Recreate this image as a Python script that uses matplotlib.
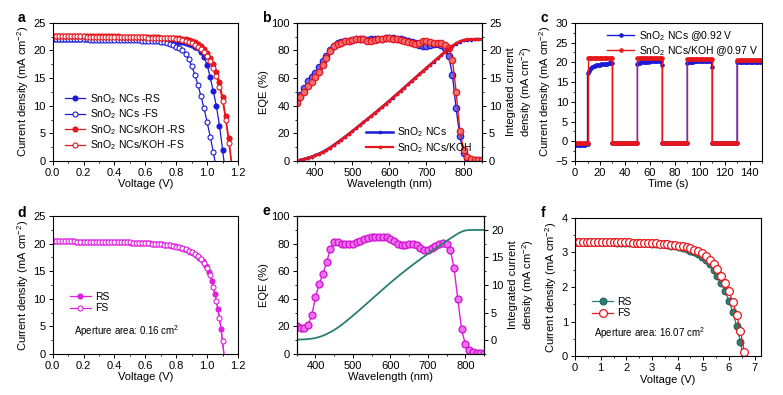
import numpy as np
import matplotlib
matplotlib.use('Agg')
import matplotlib.pyplot as plt
from matplotlib.ticker import MultipleLocator, FormatStrFormatter

plt.rcParams['font.family'] = ['Liberation Sans', 'DejaVu Sans']
plt.rcParams['font.size'] = 8
plt.rcParams['mathtext.fontset'] = 'custom'
plt.rcParams['mathtext.rm'] = 'Liberation Sans'
plt.rcParams['mathtext.it'] = 'Liberation Sans:italic'
plt.rcParams['mathtext.bf'] = 'Liberation Sans:bold'
plt.rcParams['mathtext.default'] = 'regular'
plt.rcParams['axes.linewidth'] = 0.8

BLUE = '#1a1ad8'
RED = '#e6161c'
MAG = '#e01ee0'
TEAL = '#2a7f72'

# ---------------- a: J-V (0.02 V steps)
a_blue_rs = [22.10, 22.10, 22.10, 22.10, 22.10, 22.10, 22.09, 22.09, 22.09, 22.08,
             22.08, 22.08, 22.07, 22.07, 22.06, 22.06, 22.05, 22.05, 22.05, 22.04,
             22.04, 22.03, 22.03, 22.02, 22.02, 22.01, 22.00, 21.99, 21.98, 21.97,
             21.96, 21.95, 21.93, 21.91, 21.89, 21.86, 21.83, 21.79, 21.75, 21.69,
             21.62, 21.53, 21.43, 21.30, 21.12, 20.92, 20.68, 20.35, 19.80, 18.80,
             17.40, 15.10, 12.60, 9.90, 6.40, 2.00, -2.50]
a_blue_fs = [22.00, 22.00, 22.00, 22.00, 22.00, 22.00, 21.99, 21.99, 21.99, 21.98,
             21.98, 21.98, 21.97, 21.97, 21.96, 21.96, 21.95, 21.95, 21.94, 21.93,
             21.93, 21.92, 21.91, 21.90, 21.89, 21.88, 21.86, 21.84, 21.81, 21.78,
             21.75, 21.72, 21.70, 21.66, 21.61, 21.55, 21.45, 21.32, 21.15, 20.95,
             20.70, 20.40, 20.00, 19.30, 18.40, 17.20, 15.60, 13.80, 11.70, 9.50,
             7.00, 4.40, 1.60, -1.50]
a_red_rs = [22.62, 22.62, 22.62, 22.61, 22.61, 22.61, 22.60, 22.60, 22.60, 22.59,
            22.59, 22.58, 22.58, 22.57, 22.57, 22.56, 22.56, 22.55, 22.54, 22.54,
            22.53, 22.52, 22.51, 22.50, 22.49, 22.48, 22.47, 22.46, 22.45, 22.43,
            22.42, 22.40, 22.39, 22.37, 22.35, 22.33, 22.31, 22.29, 22.27, 22.26,
            22.25, 22.18, 22.10, 22.00, 21.85, 21.67, 21.43, 21.12, 20.72, 20.20,
            19.55, 18.70, 17.60, 16.15, 14.20, 11.60, 8.20, 4.10, -0.50]
a_red_fs = [22.55, 22.55, 22.55, 22.54, 22.54, 22.54, 22.53, 22.53, 22.53, 22.52,
            22.52, 22.51, 22.51, 22.50, 22.50, 22.49, 22.49, 22.48, 22.47, 22.47,
            22.46, 22.45, 22.44, 22.43, 22.42, 22.41, 22.40, 22.39, 22.38, 22.36,
            22.35, 22.33, 22.32, 22.30, 22.28, 22.26, 22.24, 22.22, 22.20, 22.18,
            22.15, 22.05, 21.92, 21.77, 21.58, 21.35, 21.05, 20.68, 20.22, 19.65,
            18.95, 18.05, 16.90, 15.40, 13.40, 10.80, 7.40, 3.30, -1.00]

# ---------------- b: EQE and integrated current (10 nm steps)
wl = np.arange(350, 851, 10)
b_eqe_blue = [44, 48, 52.5, 58, 61, 64, 68, 72, 76, 80.5,
              83.5, 85, 86, 86.5, 87, 87.5, 88, 88, 88, 87.5,
              88, 88.5, 88.5, 88.5, 89, 89, 89, 88.5, 88, 87.5,
              87, 86, 85, 84, 83, 83.5, 84, 84.5, 84.5, 84,
              82, 76, 62, 38, 18, 6, 2, 1, 0.8, 0.8, 0.8]
b_eqe_red = [42, 46, 50, 54, 57, 60.5, 64.5, 69.5, 74.5, 79.5,
             83, 84.5, 85.5, 86.5, 87, 87.5, 88, 88, 88, 87,
             87, 87.5, 88, 88.5, 89, 89, 88.5, 88, 87.5, 87,
             86, 85, 84.5, 85.5, 86.5, 86.5, 86, 85.5, 85.5, 85,
             84, 82, 73, 50, 22, 8, 3, 1.5, 1, 1, 1]
b_int_blue = [0.05, 0.20, 0.38, 0.58, 0.80, 1.05, 1.33, 1.65, 2.02, 2.44,
              2.90, 3.38, 3.87, 4.37, 4.88, 5.40, 5.93, 6.47, 7.01, 7.55,
              8.10, 8.65, 9.20, 9.76, 10.33, 10.90, 11.48, 12.07, 12.67, 13.27,
              13.87, 14.47, 15.07, 15.66, 16.24, 16.82, 17.40, 17.98, 18.56, 19.13,
              19.70, 20.25, 20.75, 21.20, 21.55, 21.80, 21.92, 21.97, 21.99, 22.00, 22.00]
b_int_red = [0.05, 0.19, 0.37, 0.56, 0.77, 1.01, 1.28, 1.60, 1.97, 2.40,
             2.86, 3.35, 3.85, 4.36, 4.88, 5.41, 5.95, 6.49, 7.03, 7.57,
             8.12, 8.67, 9.22, 9.78, 10.35, 10.92, 11.50, 12.09, 12.69, 13.29,
             13.89, 14.49, 15.09, 15.68, 16.27, 16.86, 17.45, 18.03, 18.61, 19.19,
             19.76, 20.32, 20.84, 21.30, 21.65, 21.88, 21.98, 22.03, 22.05, 22.06, 22.06]

# ---------------- c: steady-state output (1 s steps)
c_blue = ([-1.00, -1.00, -0.98, -0.95, -0.93, -0.90, -0.88, -0.85, -0.83, -0.80, -0.80],
          [17.3, 17.9, 18.3, 18.6, 18.8, 18.95, 19.1, 19.2, 19.3, 19.35, 19.4,
           19.45, 19.5, 19.55, 19.6, 19.6, 19.65, 19.7, 19.7, 19.75, 19.7],
          [-0.5] * 21,
          [19.6, 19.8, 19.9, 20.0, 20.0, 20.1, 20.1, 20.1, 20.15, 20.15, 20.2,
           20.2, 20.2, 20.2, 20.2, 20.2, 20.2, 20.2, 20.2, 20.2, 19.3],
          [-0.5] * 21,
          [19.9, 20.0, 20.1, 20.1, 20.15, 20.15, 20.2, 20.2, 20.2, 20.2, 20.2,
           20.2, 20.2, 20.2, 20.2, 20.2, 20.2, 20.2, 20.2, 20.2, 18.7],
          [-0.5] * 21,
          [20.0, 20.05, 20.1, 20.1, 20.1, 20.1, 20.1, 20.1, 20.1, 20.1, 20.1,
           20.1, 20.1, 20.1, 20.1, 20.1, 20.1, 20.1, 20.1, 20.1, 20.0])
c_red = ([-0.5] * 11, [21.0] * 21, [-0.5] * 21, [21.05] * 21,
         [-0.5] * 21, [20.8] * 21, [-0.5] * 21, [20.5] * 21)
c_bounds = [0, 10, 30, 50, 70, 90, 110, 130, 150]

# ---------------- d: small-area J-V
d_fs = [20.40, 20.40, 20.40, 20.39, 20.39, 20.39, 20.38, 20.38, 20.37, 20.37,
        20.36, 20.36, 20.35, 20.34, 20.34, 20.33, 20.32, 20.31, 20.30, 20.29,
        20.28, 20.27, 20.25, 20.24, 20.22, 20.20, 20.18, 20.16, 20.14, 20.11,
        20.08, 20.05, 20.01, 19.97, 19.92, 19.87, 19.81, 19.74, 19.66, 19.56,
        19.45, 19.31, 19.14, 18.94, 18.70, 18.40, 18.03, 17.70, 17.20, 16.50,
        15.50, 14.30, 12.10, 9.60, 6.60, 2.40, -3.00]
d_rs = [20.40, 20.40, 20.39, 20.39, 20.39, 20.38, 20.38, 20.37, 20.37, 20.36,
        20.36, 20.35, 20.35, 20.34, 20.33, 20.32, 20.31, 20.30, 20.29, 20.28,
        20.27, 20.26, 20.24, 20.23, 20.21, 20.19, 20.17, 20.15, 20.12, 20.10,
        20.07, 20.03, 19.99, 19.95, 19.90, 19.84, 19.78, 19.70, 19.61, 19.51,
        19.38, 19.23, 19.04, 18.82, 18.55, 18.22, 17.85, 17.45, 16.85, 16.00,
        14.90, 13.30, 10.90, 8.10, 4.50, -0.50]

# ---------------- e: EQE and integrated current
e_eqe = [20.5, 19, 19, 21, 28, 41, 51, 58, 67, 76,
         81, 81.5, 80, 79.5, 79.5, 80, 81, 82, 83, 84,
         84.5, 85, 85, 85, 84.5, 83.5, 82, 80, 79, 79,
         80, 80, 79, 77, 75.5, 75.5, 76.5, 78.5, 80, 80.5,
         80, 75.5, 62, 39.5, 18, 7, 3, 1.5, 1, 1, 1]
e_int = [0.10, 0.12, 0.15, 0.20, 0.28, 0.40, 0.58, 0.82, 1.12, 1.47,
         1.85, 2.30, 2.80, 3.33, 3.88, 4.45, 5.03, 5.62, 6.22, 6.82,
         7.42, 8.02, 8.62, 9.22, 9.82, 10.40, 10.97, 11.53, 12.08, 12.62,
         13.15, 13.67, 14.18, 14.68, 15.17, 15.65, 16.13, 16.60, 17.06, 17.52,
         17.98, 18.43, 18.88, 19.30, 19.65, 19.88, 19.95, 19.97, 19.97, 19.97, 19.97]

# ---------------- f: module J-V (0.15 V steps)
f_fs = [3.30, 3.30, 3.30, 3.30, 3.30, 3.30, 3.30, 3.30, 3.30, 3.30,
        3.30, 3.29, 3.29, 3.29, 3.29, 3.28, 3.28, 3.28, 3.27, 3.27,
        3.26, 3.26, 3.25, 3.24, 3.23, 3.22, 3.21, 3.19, 3.17, 3.15,
        3.12, 3.08, 3.03, 2.97, 2.89, 2.79, 2.66, 2.51, 2.33, 2.12,
        1.87, 1.57, 1.20, 0.72, 0.12]
f_rs = [3.29, 3.29, 3.29, 3.29, 3.29, 3.29, 3.29, 3.29, 3.29, 3.29,
        3.29, 3.28, 3.28, 3.28, 3.28, 3.27, 3.27, 3.27, 3.26, 3.26,
        3.25, 3.25, 3.24, 3.23, 3.21, 3.19, 3.17, 3.15, 3.12, 3.09,
        3.05, 3.00, 2.94, 2.86, 2.77, 2.65, 2.50, 2.33, 2.12, 1.88,
        1.60, 1.27, 0.88, 0.40, -0.15]

JLABEL = 'Current density (mA cm$^{-2}$)'
INTLABEL = 'Integrated current\ndensity (mA cm$^{-2}$)'


def style(ax, right=False):
    ax.tick_params(which='both', direction='out', labelsize=8, pad=2)
    ax.tick_params(which='major', length=3, width=0.7)
    ax.tick_params(which='minor', length=1.7, width=0.6)
    if not right:
        ax.tick_params(which='both', right=False, top=False)


fig = plt.figure(figsize=(7.83, 3.95), dpi=100)
W = 0.2367
H = 0.350
ax_a = fig.add_axes([0.0673, 0.5924, W, H])
ax_b = fig.add_axes([0.379, 0.5924, W, H])
ax_c = fig.add_axes([0.7344, 0.5924, 0.2388, H])
ax_d = fig.add_axes([0.0673, 0.1038, W, 0.3494])
ax_e = fig.add_axes([0.379, 0.1038, 0.2392, 0.3494])
ax_f = fig.add_axes([0.7344, 0.098, 0.2375, 0.351])

# a
v = lambda n, s=0.0: np.round(s + np.arange(n) * 0.02, 3)
kw = dict(lw=0.9, ms=3.6, mew=0.8)
ax_a.plot(v(len(a_blue_rs)), a_blue_rs, '-o', color=BLUE, mfc=BLUE, label='SnO$_2$ NCs -RS', **kw)
ax_a.plot(v(len(a_blue_fs)), a_blue_fs, '-o', color=BLUE, mfc='white', label='SnO$_2$ NCs -FS', **kw)
ax_a.plot(v(len(a_red_rs)), a_red_rs, '-o', color=RED, mfc=RED, label='SnO$_2$ NCs/KOH -RS', **kw)
ax_a.plot(v(len(a_red_fs)), a_red_fs, '-o', color=RED, mfc='white', label='SnO$_2$ NCs/KOH -FS', **kw)
ax_a.set_xlim(0, 1.2)
ax_a.set_ylim(0, 25)
ax_a.xaxis.set_major_locator(MultipleLocator(0.2))
ax_a.xaxis.set_minor_locator(MultipleLocator(0.1))
ax_a.xaxis.set_major_formatter(FormatStrFormatter('%.1f'))
ax_a.yaxis.set_major_locator(MultipleLocator(5))
ax_a.yaxis.set_minor_locator(MultipleLocator(2.5))
ax_a.set_xlabel('Voltage (V)', labelpad=1)
ax_a.set_ylabel(JLABEL, labelpad=2)
ax_a.legend(loc='lower left', bbox_to_anchor=(0.03, 0.02), frameon=False, fontsize=7.5,
            handlelength=2.0, handletextpad=0.4, labelspacing=0.15, borderaxespad=0.2)
style(ax_a)

# b
kb = dict(lw=1.0, ms=4.6, mew=0.9)
ax_b.plot(wl, b_eqe_blue, '-o', color=BLUE, mfc='#6a6af0', mec=BLUE, **kb)
ax_b.plot(wl, b_eqe_red, '-o', color=RED, mfc='#f27070', mec=RED, **kb)
ax_b.set_xlim(350, 850)
ax_b.set_ylim(0, 100)
ax_b.xaxis.set_major_locator(MultipleLocator(100))
ax_b.xaxis.set_minor_locator(MultipleLocator(50))
ax_b.yaxis.set_major_locator(MultipleLocator(20))
ax_b.yaxis.set_minor_locator(MultipleLocator(10))
ax_b.set_xlabel('Wavelength (nm)', labelpad=1)
ax_b.set_ylabel('EQE (%)', labelpad=2)
style(ax_b)
ax_b2 = ax_b.twinx()
ax_b2.plot(wl, b_int_blue, '-o', color=BLUE, lw=1.8, ms=1.6, label='SnO$_2$ NCs')
ax_b2.plot(wl, b_int_red, '-o', color=RED, lw=1.6, ms=1.6, label='SnO$_2$ NCs/KOH')
ax_b2.set_ylim(0, 25)
ax_b2.yaxis.set_major_locator(MultipleLocator(5))
ax_b2.yaxis.set_minor_locator(MultipleLocator(2.5))
ax_b2.set_ylabel(INTLABEL, labelpad=3)
ax_b2.tick_params(which='both', direction='out', labelsize=8, pad=2)
ax_b2.tick_params(which='major', length=3, width=0.7)
ax_b2.tick_params(which='minor', length=1.7, width=0.6)
ax_b2.legend(loc='lower right', bbox_to_anchor=(0.98, 0.0), frameon=False, fontsize=7.5,
             handlelength=2.6, handletextpad=0.4, labelspacing=0.15, borderaxespad=0.2)

# c
t = []
for i in range(len(c_bounds) - 1):
    t.append(np.arange(c_bounds[i], c_bounds[i + 1] + 1))
tt = np.concatenate(t)
kc = dict(lw=1.0, ms=2.6, mew=0.6)
ax_c.plot(tt, np.concatenate(c_blue), '-o', color=BLUE, mfc=BLUE, label='SnO$_2$ NCs @0.92 V', **kc)
ax_c.plot(tt, np.concatenate(c_red), '-o', color=RED, mfc=RED, label='SnO$_2$ NCs/KOH @0.97 V', **kc)
ax_c.set_xlim(0, 150)
ax_c.set_ylim(-5, 30)
ax_c.xaxis.set_major_locator(MultipleLocator(20))
ax_c.xaxis.set_minor_locator(MultipleLocator(10))
ax_c.yaxis.set_major_locator(MultipleLocator(5))
ax_c.yaxis.set_minor_locator(MultipleLocator(2.5))
ax_c.set_xlabel('Time (s)', labelpad=1)
ax_c.set_ylabel(JLABEL, labelpad=2)
ax_c.legend(loc='upper right', bbox_to_anchor=(1.01, 1.0), frameon=False, fontsize=7.5,
            handlelength=2.6, handletextpad=0.4, labelspacing=0.1, borderaxespad=0.2)
style(ax_c)

# d
ax_d.plot(v(len(d_rs), 0.01), d_rs, '-o', color=MAG, mfc=MAG, label='RS', **kw)
ax_d.plot(v(len(d_fs)), d_fs, '-o', color=MAG, mfc='white', label='FS', **kw)
ax_d.set_xlim(0, 1.2)
ax_d.set_ylim(0, 25)
ax_d.xaxis.set_major_locator(MultipleLocator(0.2))
ax_d.xaxis.set_minor_locator(MultipleLocator(0.1))
ax_d.xaxis.set_major_formatter(FormatStrFormatter('%.1f'))
ax_d.yaxis.set_major_locator(MultipleLocator(5))
ax_d.yaxis.set_minor_locator(MultipleLocator(2.5))
ax_d.set_xlabel('Voltage (V)', labelpad=1)
ax_d.set_ylabel(JLABEL, labelpad=2)
ax_d.legend(loc='lower left', bbox_to_anchor=(0.06, 0.25), frameon=False, fontsize=7.5,
            handlelength=2.0, handletextpad=0.4, labelspacing=0.15, borderaxespad=0.2)
ax_d.text(0.14, 3.4, 'Aperture area: 0.16 cm$^2$', fontsize=7)
style(ax_d)

# e
ax_e.plot(wl, e_eqe, '-o', color=MAG, mfc='#f070f0', mec='#d010d0', lw=1.0, ms=5.0, mew=0.9)
ax_e.set_xlim(350, 850)
ax_e.set_ylim(0, 100)
ax_e.xaxis.set_major_locator(MultipleLocator(100))
ax_e.xaxis.set_minor_locator(MultipleLocator(50))
ax_e.yaxis.set_major_locator(MultipleLocator(20))
ax_e.yaxis.set_minor_locator(MultipleLocator(10))
ax_e.set_xlabel('Wavelength (nm)', labelpad=1)
ax_e.set_ylabel('EQE (%)', labelpad=2)
style(ax_e)
ax_e2 = ax_e.twinx()
ax_e2.plot(wl, e_int, '-', color=TEAL, lw=1.3)
ax_e2.set_ylim(-2.5, 22.5)
ax_e2.yaxis.set_major_locator(MultipleLocator(5))
ax_e2.yaxis.set_minor_locator(MultipleLocator(2.5))
ax_e2.set_ylabel(INTLABEL, labelpad=3)
ax_e2.tick_params(which='both', direction='out', labelsize=8, pad=2)
ax_e2.tick_params(which='major', length=3, width=0.7)
ax_e2.tick_params(which='minor', length=1.7, width=0.6)

# f
vf = np.round(np.arange(len(f_fs)) * 0.15, 3)
ax_f.plot(vf, f_rs, '-o', color=TEAL, mfc=TEAL, mec='#1f5f55', lw=0.9, ms=5.0, mew=0.7, label='RS')
ax_f.plot(vf, f_fs, '-o', color=RED, mfc='white', lw=0.9, ms=5.6, mew=0.9, label='FS')
ax_f.set_xlim(0, 7.25)
ax_f.set_ylim(0, 4)
ax_f.xaxis.set_major_locator(MultipleLocator(1))
ax_f.xaxis.set_minor_locator(MultipleLocator(0.5))
ax_f.yaxis.set_major_locator(MultipleLocator(1))
ax_f.yaxis.set_minor_locator(MultipleLocator(0.5))
ax_f.set_xlabel('Voltage (V)', labelpad=1)
ax_f.set_ylabel(JLABEL, labelpad=2)
ax_f.legend(loc='lower left', bbox_to_anchor=(0.06, 0.23), frameon=False, fontsize=7.5,
            handlelength=2.0, handletextpad=0.4, labelspacing=0.15, borderaxespad=0.2)
ax_f.text(0.74, 0.55, 'Aperture area: 16.07 cm$^2$', fontsize=7)
style(ax_f)

# panel letters
for x, y, s in [(0.022, 0.955, 'a'), (0.335, 0.955, 'b'), (0.690, 0.955, 'c'),
                (0.022, 0.46, 'd'), (0.335, 0.465, 'e'), (0.690, 0.46, 'f')]:
    fig.text(x, y, s, fontsize=10, fontweight='bold', va='center')

fig.savefig('out.png', dpi=100)
